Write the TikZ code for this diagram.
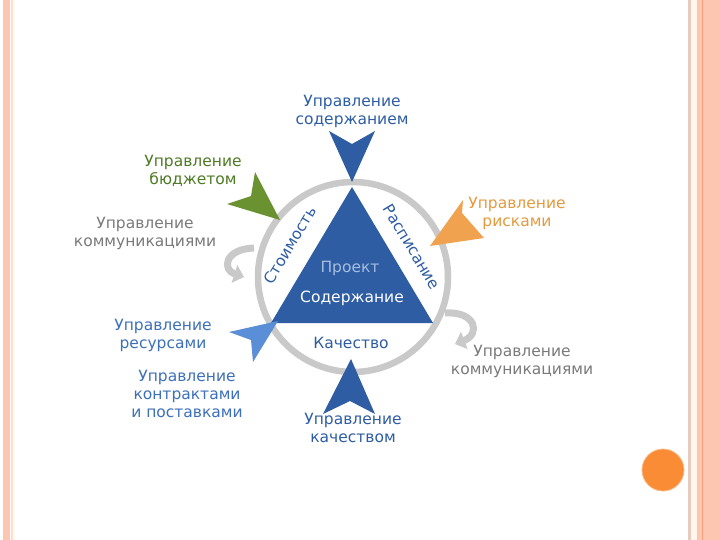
\documentclass[tikz,border=0pt]{standalone}
\usepackage{fontspec}
\setmainfont{DejaVu Sans}
\usetikzlibrary{arrows.meta}
\definecolor{tri}{HTML}{2E5DA3}
\definecolor{ringgray}{HTML}{C9C9C9}
\definecolor{txtgray}{HTML}{7A7A7A}
\definecolor{grn}{HTML}{6A9230}
\definecolor{grntxt}{HTML}{4E7B25}
\definecolor{org}{HTML}{F0A24E}
\definecolor{orgtxt}{HTML}{E39A3E}
\definecolor{lblue}{HTML}{5A8ED6}
\definecolor{lbtxt}{HTML}{3C70BA}
\definecolor{projtxt}{HTML}{A6BDE0}
\definecolor{salmon}{HTML}{FCC6B0}
\definecolor{salmondk}{HTML}{F4A07E}
\definecolor{tan}{HTML}{E8CBBE}
\definecolor{cream}{HTML}{FFF6EC}
\definecolor{dot}{HTML}{F98C35}
\tikzset{
  lbl/.style={font=\fontsize{15.5}{18}\selectfont, align=center, inner sep=0pt},
  hook/.style={line width=7pt, color=ringgray, -{Triangle[length=10pt,width=18pt]}}
}
\begin{document}
\begin{tikzpicture}[x=1pt,y=-1pt]
\useasboundingbox (0,0) rectangle (720,540);
\fill[white] (0,0) rectangle (720,540);
% page border decoration
\fill[salmon] (3,0) rectangle (9.5,540);
\fill[salmon!60] (11,0) rectangle (12.5,540);
\fill[cream] (14,0) rectangle (15,540);
\fill[tan] (688,0) rectangle (691,540);
\fill[cream] (691,0) rectangle (697,540);
\fill[salmon] (697,0) rectangle (720,540);
\fill[salmondk] (701.5,0) rectangle (703,540);
% orange dot
\node[circle, fill=dot, draw=dot!60, line width=0.8pt, minimum size=42pt, inner sep=0pt] (dot) at (663,470) {};
% ring
\node[circle, draw=ringgray, line width=6.5pt, minimum size=190pt, inner sep=0pt] (ring) at (353,277) {};
% triangle
\coordinate (A) at (352,187);
\coordinate (B) at (271,323);
\coordinate (C) at (433,323);
\fill[tri] (A) -- (B) -- (C) -- cycle;
% inner texts
\node[lbl, text=projtxt] (proj) at (350,268) {Проект};
\node[lbl, text=white] (sod) at (352,298) {Содержание};
\node[lbl, text=tri] (kach) at (351,343) {Качество};
\node[lbl, text=tri, rotate=59] (cost) at (290,245) {Стоимость};
\node[lbl, text=tri, rotate=-59] (sched) at (412,247) {Расписание};
% pointers
\fill[tri] (352,182) -- (329,131) -- (352,144) -- (375,131) -- cycle;
\fill[tri] (351,359) -- (323,414) -- (350,401) -- (375,414) -- cycle;
\fill[grn] (280,220) -- (227,204) -- (251,196) -- (255,172) -- cycle;
\fill[org] (430,246) -- (463,200) -- (462,213) -- (484,238) -- cycle;
\fill[lblue] (278,321) -- (229,332) -- (251,340) -- (253,362) -- cycle;
% gray hook arrows
\draw[hook] (254,248) .. controls (224,249) and (222,270) .. (244,277);
\draw[hook] (445,313) .. controls (476,311) and (481,334) .. (455,344);
% labels
\node[lbl, text=tri] (l1) at (352,111) {Управление\\содержанием};
\node[lbl, text=grntxt] (l2) at (193,171) {Управление\\бюджетом};
\node[lbl, text=txtgray] (l3) at (145,233) {Управление\\коммуникациями};
\node[lbl, text=orgtxt] (l4) at (517,213) {Управление\\рисками};
\node[lbl, text=lbtxt] (l5) at (163,335) {Управление\\ресурсами};
\node[lbl, text=lbtxt] (l6) at (187,394) {Управление\\контрактами\\и поставками};
\node[lbl, text=txtgray] (l7) at (522,361) {Управление\\коммуникациями};
\node[lbl, text=tri] (l8) at (353,428) {Управление\\качеством};
\end{tikzpicture}
\end{document}
